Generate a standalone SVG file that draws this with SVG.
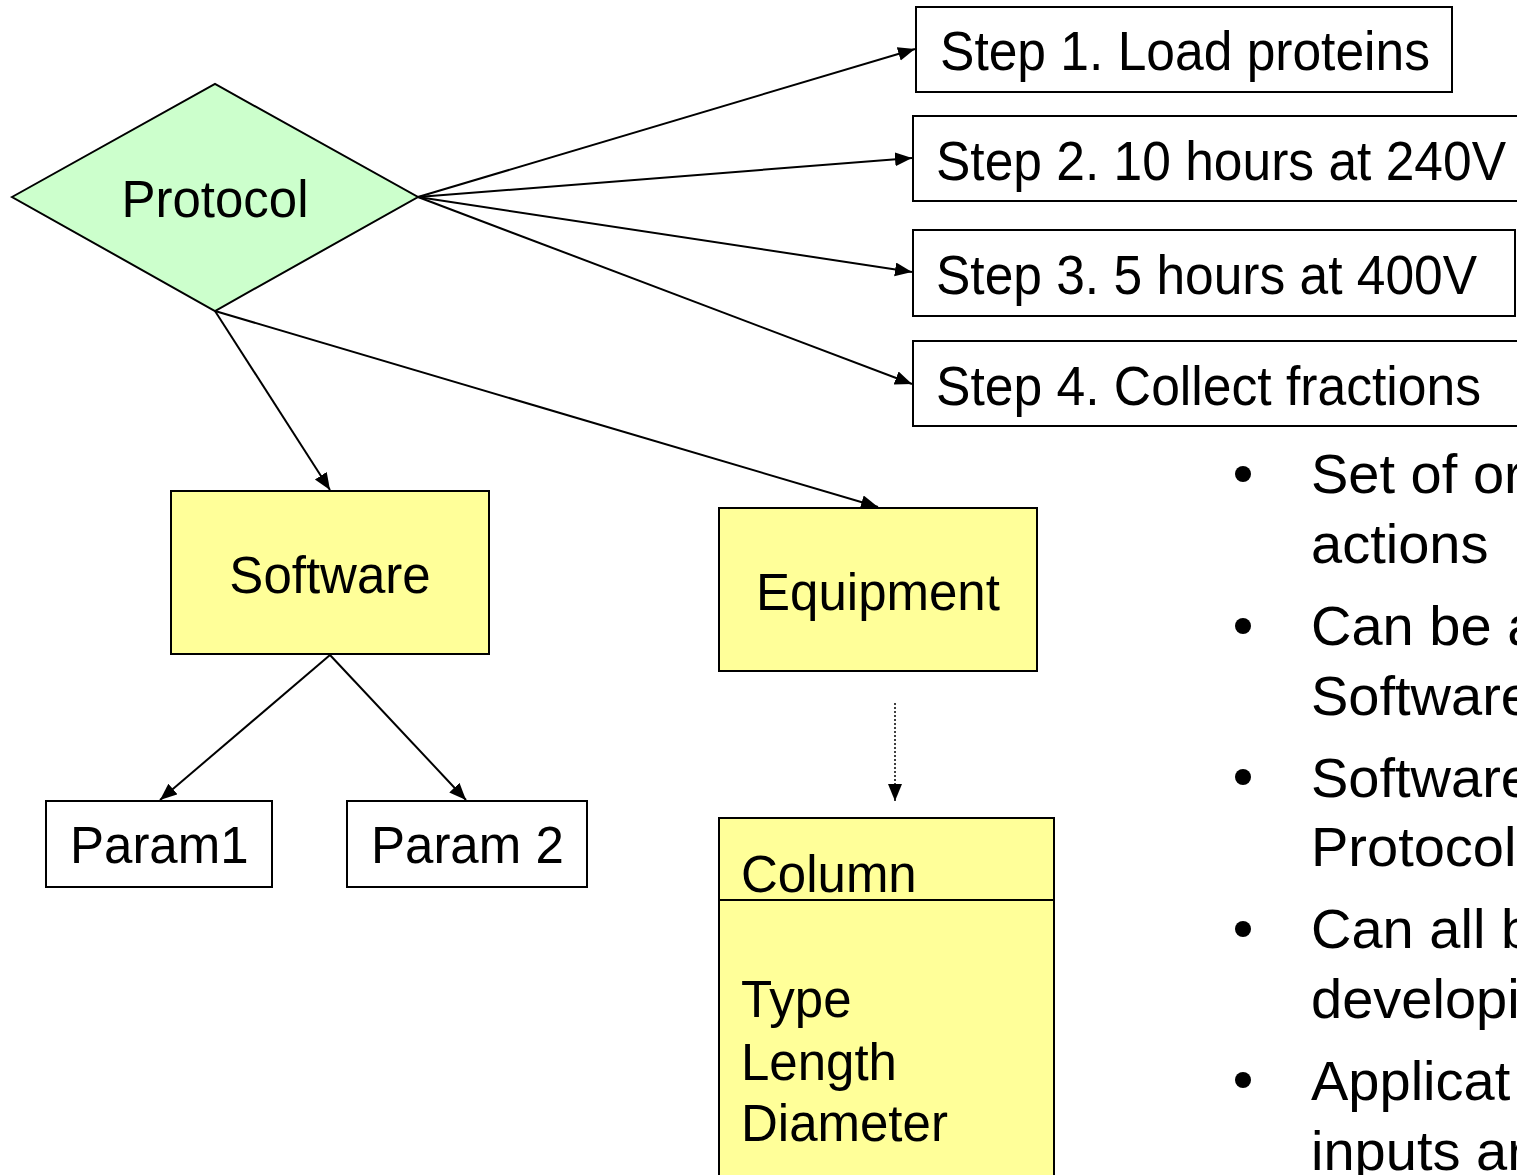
<svg xmlns="http://www.w3.org/2000/svg" width="1517" height="1175" viewBox="0 0 1517 1175">
  <style>
    .box { stroke: #000; stroke-width: 2; }
    .white { fill: #fff; }
    .yellow { fill: #ffff99; }
    .green { fill: #ccffcc; }
    .lbl { font-family: "Liberation Sans", Arial, sans-serif; font-size: 51px; fill: #000; }
    .step { font-family: "Liberation Sans", Arial, sans-serif; font-size: 55px; fill: #000; }
    .bul { font-family: "Liberation Sans", Arial, sans-serif; font-size: 56px; fill: #000; }
    .edge { stroke: #000; stroke-width: 2; fill: none; marker-end: url(#arrow); }
    .dotted { stroke: #000; stroke-width: 1.5; fill: none; stroke-dasharray: 2 2; marker-end: url(#arrow); }
  </style>
  <defs>
    <marker id="arrow" markerUnits="userSpaceOnUse" markerWidth="20" markerHeight="16" refX="17" refY="7" orient="auto">
      <path d="M0,0 L17,7 L0,14 Z" fill="#000"/>
    </marker>
  </defs>
  <rect width="1517" height="1175" fill="#fff"/>

  <!-- connectors -->
  <g id="connectors">
    <line class="edge" x1="418" y1="197" x2="915" y2="49"/>
    <line class="edge" x1="418" y1="197" x2="912" y2="158"/>
    <line class="edge" x1="418" y1="197" x2="912" y2="272"/>
    <line class="edge" x1="418" y1="197" x2="912" y2="384"/>
    <line class="edge" x1="215" y1="311" x2="330" y2="490"/>
    <line class="edge" x1="215" y1="311" x2="878" y2="507"/>
    <line class="edge" x1="330" y1="655" x2="160" y2="800"/>
    <line class="edge" x1="330" y1="655" x2="466" y2="800"/>
    <line class="dotted" x1="895" y1="703" x2="895" y2="801"/>
  </g>

  <g id="protocol">
    <polygon class="box green" points="12,197 215,84 418,197 215,311"/>
    <text class="lbl" x="215" y="217" text-anchor="middle">Protocol</text>
  </g>

  <g id="step1">
    <rect class="box white" x="916" y="7" width="536" height="85"/>
    <text class="step" x="940" y="70" textLength="490" lengthAdjust="spacingAndGlyphs">Step 1. Load proteins</text>
  </g>
  <g id="step2">
    <rect class="box white" x="913" y="116" width="620" height="85"/>
    <text class="step" x="936" y="180" textLength="570" lengthAdjust="spacingAndGlyphs">Step 2. 10 hours at 240V</text>
  </g>
  <g id="step3">
    <rect class="box white" x="913" y="230" width="602" height="86"/>
    <text class="step" x="936" y="294" textLength="541" lengthAdjust="spacingAndGlyphs">Step 3. 5 hours at 400V</text>
  </g>
  <g id="step4">
    <rect class="box white" x="913" y="341" width="620" height="85"/>
    <text class="step" x="936" y="405" textLength="545" lengthAdjust="spacingAndGlyphs">Step 4. Collect fractions</text>
  </g>

  <g id="software">
    <rect class="box yellow" x="171" y="491" width="318" height="163"/>
    <text class="lbl" x="330" y="593" text-anchor="middle">Software</text>
  </g>
  <g id="equipment">
    <rect class="box yellow" x="719" y="508" width="318" height="163"/>
    <text class="lbl" x="878" y="610" text-anchor="middle">Equipment</text>
  </g>
  <g id="param1">
    <rect class="box white" x="46" y="801" width="226" height="86"/>
    <text class="lbl" x="70" y="863">Param1</text>
  </g>
  <g id="param2">
    <rect class="box white" x="347" y="801" width="240" height="86"/>
    <text class="lbl" x="371" y="863">Param 2</text>
  </g>
  <g id="column">
    <rect class="box yellow" x="719" y="818" width="335" height="380"/>
    <line x1="719" y1="900" x2="1054" y2="900" stroke="#000" stroke-width="2"/>
    <text class="lbl" x="741" y="892">Column</text>
    <text class="lbl" x="741" y="1017">Type</text>
    <text class="lbl" x="741" y="1080">Length</text>
    <text class="lbl" x="741" y="1141">Diameter</text>
  </g>

  <!-- bullet list -->
  <g id="notes">
    <circle cx="1243" cy="474" r="8"/>
    <circle cx="1243" cy="626" r="8"/>
    <circle cx="1243" cy="777" r="8"/>
    <circle cx="1243" cy="929" r="8"/>
    <circle cx="1243" cy="1080" r="8"/>
    <text class="bul" x="1311" y="493">Set of or</text>
    <text class="bul" x="1311" y="563">actions</text>
    <text class="bul" x="1311" y="645">Can be a</text>
    <text class="bul" x="1311" y="715">Software</text>
    <text class="bul" x="1311" y="797">Software</text>
    <text class="bul" x="1311" y="866">Protocol</text>
    <text class="bul" x="1311" y="948">Can all b</text>
    <text class="bul" x="1311" y="1018">developi</text>
    <text class="bul" x="1311" y="1100">Applicat</text>
    <text class="bul" x="1311" y="1170">inputs ar</text>
  </g>
</svg>
